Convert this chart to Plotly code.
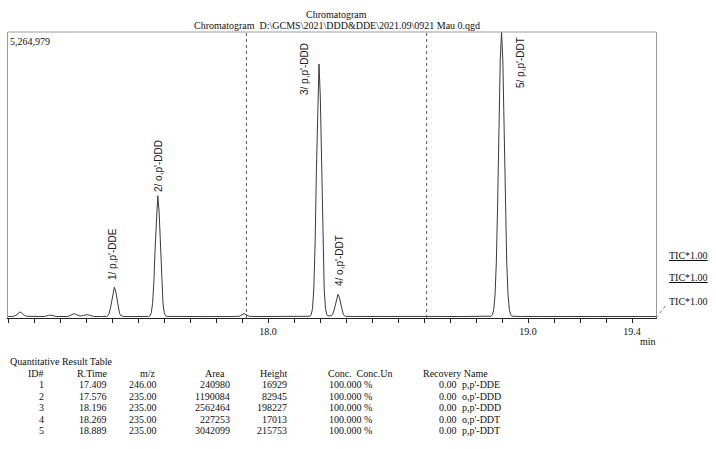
import plotly.graph_objects as go

# ---------------- data ----------------
time_min = [
    17.000, 17.020, 17.030, 17.040, 17.046, 17.052, 17.062, 17.072, 17.090,
    17.140, 17.155, 17.162, 17.170, 17.185,
    17.230, 17.245, 17.254, 17.263, 17.278, 17.290, 17.298, 17.305, 17.313, 17.330,
    17.360,
    17.374, 17.379, 17.384, 17.389, 17.394, 17.399, 17.404, 17.409, 17.414, 17.419, 17.424, 17.429, 17.434, 17.439, 17.444,
    17.480, 17.530,
    17.541, 17.546, 17.551, 17.556, 17.561, 17.566, 17.571, 17.576, 17.581, 17.586, 17.591, 17.596, 17.601, 17.606, 17.611,
    17.650, 17.750, 17.850, 17.890, 17.900, 17.908, 17.916, 17.928, 17.950, 18.050, 18.120, 18.150,
    18.161, 18.166, 18.171, 18.176, 18.181, 18.186, 18.191, 18.196, 18.201, 18.206, 18.211, 18.216, 18.221, 18.226, 18.231,
    18.235,
    18.239, 18.244, 18.249, 18.254, 18.259, 18.264, 18.269, 18.274, 18.279, 18.284, 18.289, 18.294, 18.299,
    18.330, 18.450, 18.570, 18.585, 18.600, 18.750, 18.830,
    18.858, 18.863, 18.868, 18.873, 18.878, 18.883, 18.888, 18.893, 18.898, 18.903, 18.908, 18.913, 18.918, 18.923, 18.928, 18.933, 18.938,
    18.970, 19.100, 19.300, 19.492,
]
intensity = [
    16000, 18000, 35000, 85000, 100000, 85000, 40000, 20000, 15000,
    15000, 35000, 42000, 35000, 16000,
    15000, 50000, 68000, 50000, 24000, 35000, 48000, 50000, 40000, 16000,
    15000,
    15600, 19000, 32000, 74000, 170000, 325000, 485000, 555000, 485000, 325000, 170000, 74000, 32000, 19000, 15600,
    14000, 15000,
    17500, 30000, 85000, 258000, 655000, 1297000, 1957000, 2245000, 1957000, 1297000, 655000, 258000, 85000, 30000, 17500,
    14000, 14000, 15000, 20000, 50000, 68000, 50000, 20000, 15000, 15000, 17000, 18000,
    20000, 47000, 161000, 523000, 1352000, 2695000, 4074000, 4675000, 4074000, 2695000, 1352000, 523000, 161000, 47000, 30000,
    27000,
    28000, 34000, 62000, 133000, 251000, 372000, 425000, 372000, 251000, 133000, 60000, 28000, 18000,
    16000, 17000, 17000, 28000, 17000, 15000, 16000,
    22000, 48000, 143000, 412000, 1018000, 2089000, 3485000, 4750000, 5264979, 4750000, 3485000, 2089000, 1018000, 412000, 143000, 48000, 22000,
    16000, 15000, 15000, 15000,
]
y_max = 5264979

tick_values = [17.0, 17.1, 17.2, 17.3, 17.4, 17.5, 17.6, 17.7, 17.8, 17.9,
               18.0, 18.1, 18.2, 18.3, 18.4, 18.5, 18.6, 18.7, 18.8, 18.9,
               19.0, 19.1, 19.2, 19.3, 19.4]
tick_labels = ["", "", "", "", "", "", "", "", "", "",
               "18.0", "", "", "", "", "", "", "", "", "",
               "19.0", "", "", "", "19.4"]

marker_times = [17.917, 18.610]

peak_labels = ["1/ p,p'-DDE", "2/ o,p'-DDD", "3/ p,p'-DDD", "4/ o,p'-DDT", "5/ p,p'-DDT"]

tbl_id = ["1", "2", "3", "4", "5"]
tbl_rtime = ["17.409", "17.576", "18.196", "18.269", "18.889"]
tbl_mz = ["246.00", "235.00", "235.00", "235.00", "235.00"]
tbl_area = ["240980", "1190084", "2562464", "227253", "3042099"]
tbl_height = ["16929", "82945", "198227", "17013", "215753"]
tbl_conc = ["100.000 %", "100.000 %", "100.000 %", "100.000 %", "100.000 %"]
tbl_recovery = ["0.00", "0.00", "0.00", "0.00", "0.00"]
tbl_name = ["p,p'-DDE", "o,p'-DDD", "p,p'-DDD", "o,p'-DDT", "p,p'-DDT"]

# ---------------- layout helpers (pixel -> paper) ----------------
PL, PR, PT, PB = 8, 656, 32, 318
def px(x):
    return (x - PL) / (PR - PL)
def py(y):
    return (PB - y) / (PB - PT)

SERIF = "Liberation Serif"
SANS = "Liberation Sans"

fig = go.Figure()
fig.add_trace(go.Scatter(x=time_min, y=intensity, mode="lines",
                         line=dict(color="#3a3a3a", width=1), hoverinfo="skip",
                         showlegend=False))

annotations = []
def txt(x, y, s, anchor="left", size=10, font=SERIF, **kw):
    annotations.append(dict(x=px(x), y=py(y), xref="paper", yref="paper", text=s,
                            showarrow=False, xanchor=anchor, yanchor="middle",
                            font=dict(family=font, size=size, color="#111"),
                            borderpad=0, **kw))

# titles
txt(336, 14, "Chromatogram", "center")
txt(337, 25, "Chromatogram\u00a0\u00a0" + r"D:\GCMS\2021\DDD&DDE\2021.09\0921 Mau 0.qgd", "center")
# scale value
txt(9, 41, "5,264,979", "left")
# min
txt(657, 341, "min", "right")
# TIC labels
for yy, under in [(255, True), (277, True), (301, False)]:
    annotations.append(dict(x=px(668), y=py(yy), xref="paper", yref="paper", text="TIC*1.00",
                            showarrow=False, xanchor="left", yanchor="middle", borderpad=0,
                            font=dict(family=SERIF, size=10, color="#111",
                                      lineposition="under" if under else "none")))

# peak labels (rotated)
peak_label_pos = [(112, 254), (158, 166), (304, 69), (339, 261), (520, 63)]
for lab, (xx, yy) in zip(peak_labels, peak_label_pos):
    annotations.append(dict(x=px(xx), y=py(yy), xref="paper", yref="paper", text=lab,
                            showarrow=False, textangle=-90, xanchor="center", yanchor="middle",
                            borderpad=0, font=dict(family=SANS, size=10, color="#222")))

# table
txt(9, 362, "Quantitative Result Table", "left")
hy = 373
txt(27, hy, "ID#", "left")
txt(108, hy, "R.Time", "right")
txt(148, hy, "m/z", "center")
txt(215, hy, "Area", "center")
txt(288, hy, "Height", "right")
txt(327, hy, "Conc.\u00a0\u00a0Conc.Un", "left")
txt(422, hy, "Recovery Name", "left")
row_step = 11.6
for i in range(len(tbl_id)):
    ry = hy + row_step * (i + 1)
    txt(41, ry, tbl_id[i], "center")
    txt(108, ry, tbl_rtime[i], "right")
    txt(158, ry, tbl_mz[i], "right")
    txt(231, ry, tbl_area[i], "right")
    txt(288, ry, tbl_height[i], "right")
    txt(328, ry, tbl_conc[i], "left")
    txt(458, ry, tbl_recovery[i], "right")
    txt(461, ry, tbl_name[i], "left")

shapes = []
for t in marker_times:
    shapes.append(dict(type="line", xref="x", yref="paper", x0=t, x1=t, y0=0, y1=1,
                       line=dict(color="#555", width=1, dash="dot")))
# top border
shapes.append(dict(type="line", xref="paper", yref="paper", x0=0, x1=1, y0=1, y1=1,
                   line=dict(color="#9a9a9a", width=1)))
# leader line to last TIC label
shapes.append(dict(type="line", xref="paper", yref="paper", x0=1.0, y0=0.0,
                   x1=px(667), y1=py(304), line=dict(color="#777", width=1, dash="dot")))

fig.update_layout(
    width=716, height=449,
    margin=dict(l=PL, r=716 - PR, t=PT, b=449 - PB),
    paper_bgcolor="white", plot_bgcolor="white",
    showlegend=False,
    xaxis=dict(range=[17.0, 19.492], tickmode="array", tickvals=tick_values, ticktext=tick_labels,
               ticks="outside", ticklen=4, tickwidth=1, tickcolor="#222",
               showgrid=False, zeroline=False, showline=True, linecolor="#222", linewidth=1,
               tickfont=dict(family=SERIF, size=10, color="#111")),
    yaxis=dict(range=[-12000, y_max], showticklabels=False, ticks="", showgrid=False,
               zeroline=False, showline=True, linecolor="#9a9a9a", linewidth=1, mirror=True),
    annotations=annotations,
    shapes=shapes,
)

fig.write_html("out.html")
